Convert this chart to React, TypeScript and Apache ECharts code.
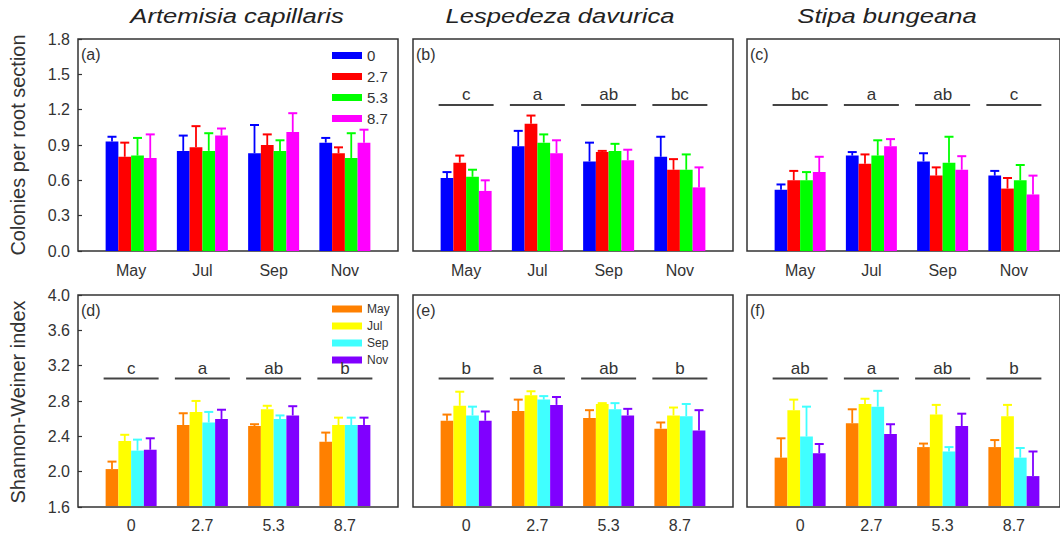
import React, { useEffect, useRef } from "react";
import * as echarts from "echarts";

const months = ["May", "Jul", "Sep", "Nov"];
const treatments = ["0", "2.7", "5.3", "8.7"];
const topColors = ["#0000ff", "#ff0000", "#00ff00", "#ff00ff"];
const bottomColors = ["#ff8000", "#ffff00", "#40ffff", "#8000ff"];
const speciesTitles = ["Artemisia capillaris", "Lespedeza davurica", "Stipa bungeana"];
const panelTags = ["(a)", "(b)", "(c)", "(d)", "(e)", "(f)"];

// Colonies per root section: rows = treatment series (0, 2.7, 5.3, 8.7), columns = months
const aMeans = [
  [0.93, 0.85, 0.83, 0.92],
  [0.8, 0.88, 0.9, 0.83],
  [0.81, 0.85, 0.85, 0.79],
  [0.79, 0.98, 1.01, 0.92],
];
const aErr = [
  [0.04, 0.13, 0.24, 0.04],
  [0.12, 0.18, 0.09, 0.05],
  [0.15, 0.15, 0.09, 0.21],
  [0.2, 0.06, 0.16, 0.11],
];
const bMeans = [
  [0.62, 0.89, 0.76, 0.8],
  [0.75, 1.08, 0.84, 0.69],
  [0.63, 0.92, 0.85, 0.69],
  [0.51, 0.83, 0.77, 0.54],
];
const bErr = [
  [0.05, 0.13, 0.16, 0.17],
  [0.06, 0.07, 0.01, 0.09],
  [0.06, 0.07, 0.06, 0.13],
  [0.09, 0.11, 0.09, 0.17],
];
const cMeans = [
  [0.52, 0.81, 0.76, 0.64],
  [0.6, 0.74, 0.64, 0.53],
  [0.6, 0.81, 0.75, 0.6],
  [0.67, 0.89, 0.69, 0.48],
];
const cErr = [
  [0.045, 0.03, 0.07, 0.04],
  [0.08, 0.08, 0.07, 0.09],
  [0.07, 0.13, 0.22, 0.13],
  [0.13, 0.06, 0.115, 0.16],
];

// Shannon-Weiner index: rows = month series, columns = treatments
const dMeans = [
  [2.02, 2.52, 2.51, 2.33],
  [2.34, 2.67, 2.7, 2.52],
  [2.23, 2.55, 2.59, 2.52],
  [2.24, 2.59, 2.63, 2.52],
];
const dErr = [
  [0.085, 0.135, 0.02, 0.105],
  [0.07, 0.125, 0.04, 0.085],
  [0.125, 0.12, 0.04, 0.085],
  [0.13, 0.105, 0.105, 0.085],
];
const eMeans = [
  [2.57, 2.68, 2.6, 2.48],
  [2.74, 2.86, 2.76, 2.63],
  [2.63, 2.81, 2.7, 2.62],
  [2.57, 2.75, 2.63, 2.46],
];
const eErr = [
  [0.07, 0.13, 0.09, 0.07],
  [0.16, 0.045, 0.01, 0.09],
  [0.1, 0.04, 0.07, 0.14],
  [0.105, 0.09, 0.075, 0.23],
];
const fMeans = [
  [2.15, 2.54, 2.27, 2.27],
  [2.69, 2.76, 2.64, 2.62],
  [2.39, 2.73, 2.22, 2.15],
  [2.2, 2.42, 2.51, 1.94],
];
const fErr = [
  [0.22, 0.16, 0.04, 0.08],
  [0.12, 0.06, 0.11, 0.13],
  [0.34, 0.18, 0.05, 0.11],
  [0.105, 0.11, 0.14, 0.28],
];

const aLetters: string[] = [];
const bLetters = ["c", "a", "ab", "bc"];
const cLetters = ["bc", "a", "ab", "c"];
const dLetters = ["c", "a", "ab", "b"];
const eLetters = ["b", "a", "ab", "b"];
const fLetters = ["ab", "a", "ab", "b"];

const topLetterLevel = 1.24;
const bottomLetterLevel = 3.05;

const FONT = "'Liberation Sans', Arial, sans-serif";
const TXT = "#333";

export default function App() {
  const ref = useRef<HTMLDivElement>(null);

  useEffect(() => {
    if (!ref.current) return;
    const chart = echarts.init(ref.current, undefined, { renderer: "svg" });

    const panelLefts = [78, 413, 747];
    const panelWidth = 320;
    const rowTops = [39, 295];
    const panelHeight = 212;
    const innerPad = 17.5;
    const innerWidth = 285;
    const barW = 12.75;

    const panels = [
      { means: aMeans, err: aErr, letters: aLetters, row: 0, col: 0 },
      { means: bMeans, err: bErr, letters: bLetters, row: 0, col: 1 },
      { means: cMeans, err: cErr, letters: cLetters, row: 0, col: 2 },
      { means: dMeans, err: dErr, letters: dLetters, row: 1, col: 0 },
      { means: eMeans, err: eErr, letters: eLetters, row: 1, col: 1 },
      { means: fMeans, err: fErr, letters: fLetters, row: 1, col: 2 },
    ];

    const grid: any[] = [];
    const xAxis: any[] = [];
    const yAxis: any[] = [];
    const series: any[] = [];
    const graphic: any[] = [];

    panels.forEach((p, pi) => {
      const L = panelLefts[p.col];
      const T = rowTops[p.row];
      const isTop = p.row === 0;
      const yMin = isTop ? 0 : 1.6;
      const yMax = isTop ? 1.8 : 4.0;
      const yInt = isTop ? 0.3 : 0.4;
      const cats = isTop ? months : treatments;
      const names = isTop ? treatments : months;
      const colors = isTop ? topColors : bottomColors;
      const showY = p.col === 0;

      // outer frame grid
      const outerIdx = grid.length;
      grid.push({
        left: L,
        top: T,
        width: panelWidth,
        height: panelHeight,
        show: true,
        borderColor: "#333",
        borderWidth: 1.5,
        backgroundColor: "transparent",
      });
      xAxis.push({ type: "value", gridIndex: outerIdx, show: false, min: 0, max: 1 });
      yAxis.push({
        type: "value",
        gridIndex: outerIdx,
        min: yMin,
        max: yMax,
        interval: yInt,
        axisLine: { show: false },
        axisTick: { show: showY, inside: true, length: 4, lineStyle: { color: "#333", width: 1.2 } },
        splitLine: { show: false },
        axisLabel: {
          show: showY,
          fontSize: 16,
          fontFamily: FONT,
          color: TXT,
          margin: 8,
          formatter: (v: number) => v.toFixed(1),
        },
      });

      // inner data grid
      const innerIdx = grid.length;
      grid.push({ left: L + innerPad, top: T, width: innerWidth, height: panelHeight });
      const xIdx = xAxis.length;
      xAxis.push({
        type: "category",
        gridIndex: innerIdx,
        data: cats,
        axisLine: { show: false },
        axisTick: { show: false },
        axisLabel: { fontSize: 16, fontFamily: FONT, color: TXT, margin: 11 },
      });
      const yIdx = yAxis.length;
      yAxis.push({
        type: "value",
        gridIndex: innerIdx,
        min: yMin,
        max: yMax,
        interval: yInt,
        show: false,
        splitLine: { show: false },
      });

      p.means.forEach((vals, s) => {
        series.push({
          type: "bar",
          name: names[s],
          xAxisIndex: xIdx,
          yAxisIndex: yIdx,
          data: vals,
          barWidth: barW,
          barGap: "0%",
          itemStyle: { color: colors[s] },
          z: 2,
        });
      });
      p.means.forEach((vals, s) => {
        const errs = p.err[s];
        series.push({
          type: "custom",
          name: names[s],
          xAxisIndex: xIdx,
          yAxisIndex: yIdx,
          z: 3,
          itemStyle: { color: colors[s] },
          data: vals.map((v, i) => [i, v, errs[i]]),
          renderItem: (params: any, api: any) => {
            const base = api.coord([api.value(0), api.value(1)]);
            const top = api.coord([api.value(0), api.value(1) + api.value(2)]);
            const x = base[0] + (s - 1.5) * barW;
            return {
              type: "group",
              children: [
                {
                  type: "line",
                  shape: { x1: x, y1: base[1], x2: x, y2: top[1] },
                  style: { stroke: colors[s], lineWidth: 1.8 },
                },
                {
                  type: "line",
                  shape: { x1: x - 4.5, y1: top[1], x2: x + 4.5, y2: top[1] },
                  style: { stroke: colors[s], lineWidth: 2 },
                },
              ],
            };
          },
        });
      });

      if (p.letters.length) {
        const level = isTop ? topLetterLevel : bottomLetterLevel;
        const letters = p.letters;
        series.push({
          type: "custom",
          name: "letters" + pi,
          xAxisIndex: xIdx,
          yAxisIndex: yIdx,
          z: 4,
          data: letters.map((_, i) => [i, level]),
          renderItem: (params: any, api: any) => {
            const c = api.coord([api.value(0), api.value(1)]);
            return {
              type: "group",
              children: [
                {
                  type: "line",
                  shape: { x1: c[0] - 27.5, y1: c[1], x2: c[0] + 27.5, y2: c[1] },
                  style: { stroke: "#444", lineWidth: 2 },
                },
                {
                  type: "text",
                  x: c[0],
                  y: c[1] - 10,
                  style: {
                    text: letters[params.dataIndex],
                    font: `17px ${FONT}`,
                    fill: TXT,
                    align: "center",
                    verticalAlign: "middle",
                  },
                },
              ],
            };
          },
        });
      }

      graphic.push({
        type: "text",
        x: L + 3,
        y: T + 15,
        style: {
          text: panelTags[pi],
          font: `16px ${FONT}`,
          fill: TXT,
          align: "left",
          verticalAlign: "middle",
        },
      });
    });

    const titleCenters = [237, 560, 887];
    speciesTitles.forEach((t, i) => {
      graphic.push({
        type: "text",
        x: titleCenters[i],
        y: 16,
        scaleX: 1.22,
        style: {
          text: t,
          font: `italic 21px ${FONT}`,
          fill: "#222",
          align: "center",
          verticalAlign: "middle",
        },
      });
    });

    graphic.push({
      type: "text",
      x: 18,
      y: 145,
      rotation: Math.PI / 2,
      style: {
        text: "Colonies per root section",
        font: `20px ${FONT}`,
        fill: TXT,
        align: "center",
        verticalAlign: "middle",
      },
    });
    graphic.push({
      type: "text",
      x: 18,
      y: 402,
      rotation: Math.PI / 2,
      style: {
        text: "Shannon-Weiner index",
        font: `20px ${FONT}`,
        fill: TXT,
        align: "center",
        verticalAlign: "middle",
      },
    });

    chart.setOption({
      animation: false,
      backgroundColor: "#fff",
      grid,
      xAxis,
      yAxis,
      series,
      graphic,
      legend: [
        {
          data: treatments,
          orient: "vertical",
          left: 327,
          top: 43,
          icon: "rect",
          itemWidth: 30,
          itemHeight: 7,
          itemGap: 6,
          textStyle: { fontSize: 15, fontFamily: FONT, color: TXT },
        },
        {
          data: months,
          orient: "vertical",
          left: 327,
          top: 298,
          icon: "rect",
          itemWidth: 30,
          itemHeight: 7,
          itemGap: 5,
          textStyle: { fontSize: 12, fontFamily: FONT, color: TXT },
        },
      ],
    });

    return () => chart.dispose();
  }, []);

  return (
    <div
      ref={ref}
      style={{ position: "absolute", left: 0, top: 0, width: 1060, height: 533 }}
    />
  );
}
